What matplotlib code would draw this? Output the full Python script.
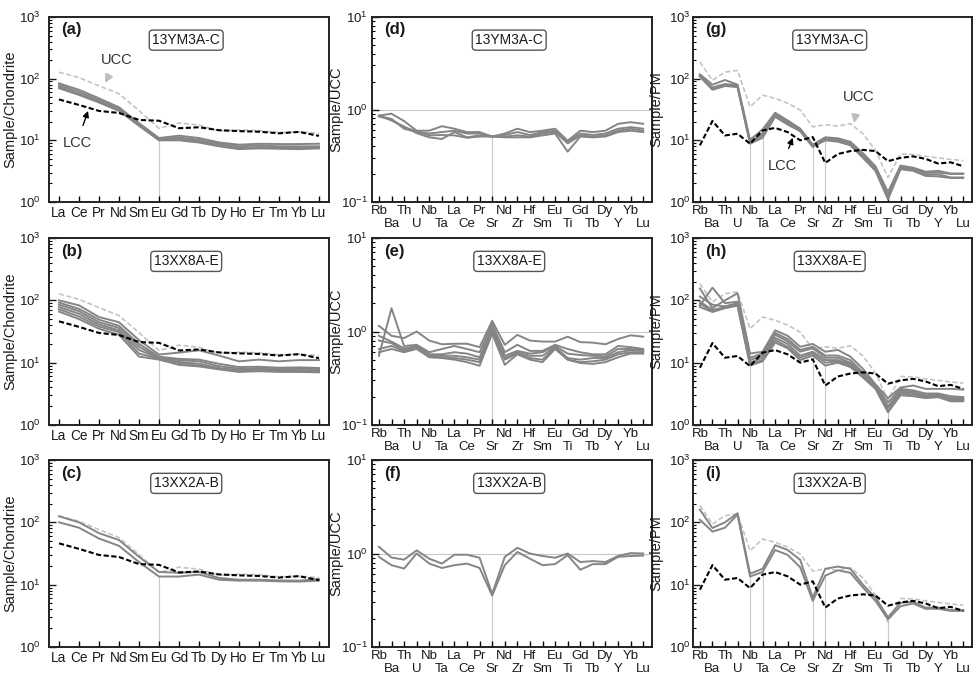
import numpy as np
import matplotlib
matplotlib.use('Agg')
import matplotlib.pyplot as plt
from matplotlib.ticker import LogLocator, NullFormatter, LogFormatterSciNotation

plt.rcParams['font.family'] = ['Liberation Sans', 'DejaVu Sans']
plt.rcParams['mathtext.fontset'] = 'custom'
plt.rcParams['mathtext.rm'] = 'Liberation Sans'
plt.rcParams['mathtext.it'] = 'Liberation Sans:italic'
plt.rcParams['mathtext.bf'] = 'Liberation Sans:bold'

# ---------------- categories ----------------
ree = ['La', 'Ce', 'Pr', 'Nd', 'Sm', 'Eu', 'Gd', 'Tb', 'Dy', 'Ho', 'Er', 'Tm', 'Yb', 'Lu']
spider = ['Rb', 'Ba', 'Th', 'U', 'Nb', 'Ta', 'La', 'Ce', 'Pr', 'Sr', 'Nd', 'Zr',
          'Hf', 'Sm', 'Eu', 'Ti', 'Gd', 'Tb', 'Dy', 'Y', 'Yb', 'Lu']

# ---------------- reference curves ----------------
ucc_ree = [127, 104, 76.5, 57, 30.4, 15.6, 19.1, 17.7, 14.2, 14.7, 14.4, 13.4, 13.7, 13.0]
lcc_ree = [46, 37.5, 30, 27.8, 21.4, 20.8, 15.7, 16.3, 14.6, 14.1, 13.8, 13.0, 13.7, 11.8]
ucc_pm = [186, 94, 128, 136, 35, 54, 48, 40, 31, 16.5, 18, 17, 18.7, 12.8, 6.9, 2.5,
          6.0, 5.9, 5.5, 5.2, 4.9, 4.7]
lcc_pm = [8.3, 20.6, 12, 12.8, 8.8, 14.5, 15.9, 13.6, 10, 11.3, 4.3, 6.0, 6.7, 7.0,
          6.7, 4.6, 5.2, 5.5, 5.0, 4.2, 4.4, 3.8]

# ---------------- samples: chondrite-normalised REE ----------------
a_ree = [
    [84, 66, 48, 34.4, 19, 10.9, 11.9, 10.9, 9.25, 8.5, 8.8, 8.7, 8.7, 8.8],
    [79, 61, 45, 32.7, 18.5, 10.5, 11.1, 10.2, 8.8, 8.0, 8.3, 8.0, 8.0, 8.0],
    [74, 56.5, 42.5, 31.2, 17.8, 10.2, 10.5, 9.6, 8.3, 7.5, 7.8, 7.6, 7.5, 7.7],
    [70, 54.5, 41, 30, 17.2, 10.0, 10.0, 9.2, 8.0, 7.2, 7.4, 7.3, 7.2, 7.4],
]
b_ree = [
    [100, 83, 54, 44.5, 23, 13.5, 14.5, 15.8, 13, 10.5, 11.2, 10.5, 11, 11],
    [92, 73, 49, 39, 20, 12.5, 11.5, 11.2, 9.6, 8.5, 8.6, 8.3, 8.4, 8.2],
    [85, 67, 44.5, 36, 18, 12, 11, 10.5, 8.8, 8.0, 8.2, 7.9, 8.0, 7.9],
    [78, 61, 41, 33, 16, 11.8, 10.3, 9.6, 8.2, 7.6, 7.8, 7.6, 7.6, 7.4],
    [72, 55, 38, 31, 14, 11.5, 9.8, 9.0, 8.0, 7.3, 7.5, 7.3, 7.3, 7.2],
    [66, 50, 35, 28, 12.5, 11.2, 9.2, 8.7, 7.8, 7.1, 7.3, 7.1, 7.1, 7.0],
]
c_ree = [
    [125, 100, 67, 52, 28, 16, 15.5, 16, 12.8, 12, 12, 11.7, 11.6, 12.3],
    [100, 82, 55, 42, 23, 13.5, 13.5, 14.5, 12, 11.6, 11.6, 11.3, 11.2, 11.6],
]

# ---------------- samples: UCC-normalised ----------------
d_ucc = [
    [0.86, 0.90, 0.75, 0.59, 0.59, 0.66, 0.62, 0.57, 0.57, 0.51, 0.55, 0.62, 0.57, 0.59,
     0.62, 0.46, 0.59, 0.57, 0.59, 0.70, 0.73, 0.70],
    [0.85, 0.79, 0.62, 0.57, 0.55, 0.57, 0.59, 0.55, 0.55, 0.51, 0.53, 0.57, 0.53, 0.57,
     0.59, 0.445, 0.55, 0.53, 0.55, 0.62, 0.645, 0.62],
    [0.86, 0.76, 0.655, 0.555, 0.50, 0.48, 0.57, 0.50, 0.525, 0.51, 0.51, 0.525, 0.51,
     0.55, 0.57, 0.43, 0.525, 0.51, 0.525, 0.59, 0.62, 0.59],
    [0.84, 0.78, 0.64, 0.585, 0.525, 0.53, 0.525, 0.495, 0.51, 0.51, 0.50, 0.50, 0.50,
     0.525, 0.55, 0.35, 0.51, 0.50, 0.51, 0.57, 0.59, 0.57],
]
e_ucc = [
    [1.15, 0.90, 0.85, 1.00, 0.80, 0.73, 0.74, 0.74, 0.68, 1.30, 0.72, 0.92, 0.80, 0.78,
     0.78, 0.88, 0.77, 0.76, 0.73, 0.83, 0.91, 0.88],
    [0.55, 1.77, 0.70, 0.72, 0.60, 0.65, 0.70, 0.65, 0.60, 1.20, 0.60, 0.72, 0.62, 0.62,
     0.72, 0.65, 0.60, 0.57, 0.57, 0.70, 0.68, 0.65],
    [0.90, 0.78, 0.66, 0.70, 0.57, 0.57, 0.60, 0.58, 0.53, 1.10, 0.55, 0.62, 0.58, 0.60,
     0.70, 0.58, 0.56, 0.55, 0.54, 0.65, 0.65, 0.63],
    [0.80, 0.75, 0.63, 0.70, 0.55, 0.55, 0.55, 0.53, 0.50, 1.05, 0.52, 0.60, 0.55, 0.55,
     0.68, 0.52, 0.50, 0.52, 0.52, 0.60, 0.63, 0.62],
    [0.65, 0.70, 0.62, 0.68, 0.54, 0.53, 0.52, 0.50, 0.47, 1.00, 0.50, 0.58, 0.52, 0.50,
     0.67, 0.50, 0.47, 0.48, 0.50, 0.57, 0.60, 0.60],
    [0.60, 0.65, 0.60, 0.65, 0.53, 0.52, 0.50, 0.47, 0.43, 0.95, 0.44, 0.57, 0.50, 0.47,
     0.65, 0.50, 0.46, 0.45, 0.47, 0.53, 0.58, 0.58],
]
f_ucc = [
    [1.18, 0.905, 0.86, 1.08, 0.88, 0.78, 0.97, 0.97, 0.90, 0.37, 0.92, 1.15, 1.00, 0.94,
     0.90, 1.00, 0.81, 0.83, 0.81, 0.94, 1.01, 1.00],
    [0.92, 0.75, 0.69, 1.00, 0.78, 0.70, 0.75, 0.78, 0.70, 0.355, 0.75, 1.04, 0.88, 0.75,
     0.77, 0.96, 0.67, 0.77, 0.77, 0.92, 0.94, 0.95],
]

# ---------------- samples: primitive-mantle-normalised ----------------
g_pm = [
    [118, 80, 95, 80, 10.2, 15, 28, 21, 15.5, 8.5, 11.2, 10.8, 9.5, 6.2, 3.8, 1.45,
     3.9, 3.6, 3.1, 3.2, 2.9, 2.9],
    [112, 72, 82, 78, 9.5, 13, 27, 20, 15, 8.3, 11, 10.3, 9.0, 5.8, 3.6, 1.3,
     3.7, 3.5, 2.95, 3.0, 2.85, 2.85],
    [110, 68, 78, 75, 9.0, 12, 25.5, 19, 14.5, 8.0, 10.5, 9.8, 8.6, 5.5, 3.4, 1.2,
     3.5, 3.3, 2.75, 2.8, 2.5, 2.5],
    [108, 66, 76, 73, 8.8, 11, 24, 18, 14, 7.8, 10, 9.5, 8.3, 5.2, 3.2, 1.1,
     3.4, 3.2, 2.65, 2.6, 2.45, 2.45],
]
h_pm = [
    [155, 75, 100, 130, 14, 15, 33, 27, 18, 20, 15, 16, 12.5, 8, 4.5, 2.7,
     4.0, 4.3, 3.8, 3.8, 3.8, 3.7],
    [82, 160, 90, 95, 12, 14, 30, 24, 16, 18, 13, 13, 11, 7, 4.3, 2.3,
     3.8, 3.6, 3.2, 3.2, 2.9, 2.8],
    [115, 85, 80, 90, 11, 13, 28, 22, 15, 17, 12, 12, 10, 6.5, 4.2, 2.0,
     3.6, 3.4, 3.0, 3.1, 2.7, 2.7],
    [95, 70, 78, 88, 10, 12, 25, 20, 13, 15, 11, 11, 9.5, 6.2, 4.0, 1.9,
     3.4, 3.3, 2.9, 3.0, 2.6, 2.6],
    [88, 67, 76, 85, 9.5, 11, 23, 18, 12, 14, 10, 10.5, 9, 6.0, 3.9, 1.7,
     3.2, 3.1, 2.8, 2.9, 2.5, 2.5],
    [78, 65, 75, 82, 9, 10.5, 21, 17, 11, 13, 9, 10, 8.5, 5.8, 3.8, 1.6,
     3.0, 2.9, 2.7, 2.8, 2.4, 2.4],
]
i_pm = [
    [160, 81, 100, 140, 15, 18, 43, 36, 25, 6.2, 18, 19.5, 18, 10, 6.2, 3.0,
     5.1, 5.3, 4.3, 4.3, 3.9, 3.9],
    [110, 71, 82, 133, 13.5, 16, 36, 30, 19, 5.5, 14, 17, 15.5, 9, 5.5, 2.8,
     4.5, 5.0, 4.1, 4.1, 3.8, 3.8],
]

sample_names = ['13YM3A-C', '13XX8A-E', '13XX2A-B']
panel_letters = ['a', 'b', 'c', 'd', 'e', 'f', 'g', 'h', 'i']

# ---------------- styling ----------------
TXT = '#1a1a1a'
SAMPLE_C = '#858585'
UCC_C = '#c4c4c4'
REF_C = '#c8c8c8'
W, H = 973, 677

fig = plt.figure(figsize=(W / 100, H / 100), dpi=100)

col_x = [49, 372, 693]
col_w = [280, 280, 279]
row_y = [(17, 202), (238, 425), (460, 647)]
col_pad = [6, 3, 2]
col_labx = [-0.112, -0.102, -0.105]


def make_ax(col, row):
    x0 = col_x[col]
    y0, y1 = row_y[row]
    return fig.add_axes([x0 / W, 1 - y1 / H, col_w[col] / W, (y1 - y0) / H])


def style_common(ax, col, ylim, ylabel, letter, name):
    ax.set_yscale('log')
    ax.set_ylim(*ylim)
    ax.yaxis.set_major_locator(LogLocator(base=10, numticks=10))
    ax.yaxis.set_minor_locator(LogLocator(base=10, subs=np.arange(2, 10), numticks=20))
    ax.yaxis.set_minor_formatter(NullFormatter())
    ax.yaxis.set_major_formatter(LogFormatterSciNotation())
    ax.tick_params(axis='y', which='major', direction='in', length=5, width=1.0,
                   labelsize=9.5, pad=col_pad[col], colors=TXT)
    ax.tick_params(axis='y', which='minor', direction='in', length=2.5, width=0.8)
    for s in ax.spines.values():
        s.set_linewidth(1.4)
        s.set_color('#222222')
    ax.set_ylabel(ylabel, fontsize=10.5, color=TXT)
    ax.yaxis.set_label_coords(col_labx[col], 0.5)
    ax.text(0.045, 0.93, '(%s)' % letter, transform=ax.transAxes, fontsize=12,
            fontweight='bold', ha='left', va='center', color=TXT)
    ax.text(0.49, 0.875, name, transform=ax.transAxes, fontsize=10, ha='center',
            va='center', color=TXT,
            bbox=dict(boxstyle='round,pad=0.22,rounding_size=0.25', fc='white',
                      ec='#555555', lw=1.0))


def draw_samples(ax, samples, marks, cats, ymin):
    arr = np.array(samples, dtype=float)
    x = np.arange(len(cats))
    for m in marks:
        i = cats.index(m)
        ax.plot([i, i], [ymin, arr[:, i].min()], color=REF_C, lw=0.8, zorder=1)
    for s in arr:
        ax.plot(x, s, color=SAMPLE_C, lw=1.4, zorder=3)


# -------- REE panels --------
ree_samples = [a_ree, b_ree, c_ree]
for r in range(3):
    ax = make_ax(0, r)
    x = np.arange(len(ree))
    ax.plot(x, ucc_ree, color=UCC_C, lw=1.2, ls=(0, (3, 1.5)), zorder=2)
    ax.plot(x, lcc_ree, color='black', lw=1.5, ls=(0, (2.5, 1.2)), zorder=4)
    draw_samples(ax, ree_samples[r], ['Eu'], ree, 1)
    ax.set_xlim(-0.5, 13.5)
    ax.set_xticks(x)
    ax.set_xticklabels(ree, fontsize=9.8, color=TXT)
    ax.tick_params(axis='x', direction='in', length=4, width=1.0, pad=3)
    style_common(ax, 0, (1, 1000), 'Sample/Chondrite', panel_letters[r], sample_names[r])
    if r == 0:
        ax.annotate('UCC', xy=(2.3, 85), xytext=(2.9, 200), fontsize=10.5, color='#333333',
                    ha='center', va='center',
                    arrowprops=dict(arrowstyle='-|>', color='#bdbdbd', lw=1.6,
                                    mutation_scale=11, shrinkA=6, shrinkB=0))
        ax.annotate('LCC', xy=(1.45, 30), xytext=(0.9, 9.0), fontsize=10.5, color='#333333',
                    ha='center', va='center',
                    arrowprops=dict(arrowstyle='-|>', color='black', lw=1.0,
                                    mutation_scale=9, shrinkA=6, shrinkB=0))


def spider_xaxis(ax):
    n = len(spider)
    ax.set_xlim(-0.55, n - 0.3)
    ax.set_xticks(list(range(0, n, 2)))
    ax.set_xticklabels(spider[0::2], fontsize=9.5, color=TXT)
    ax.set_xticks(list(range(1, n, 2)), minor=True)
    ax.set_xticklabels(spider[1::2], minor=True, fontsize=9.5, color=TXT)
    ax.tick_params(axis='x', which='major', direction='in', length=4, width=1.0, pad=2.5)
    ax.tick_params(axis='x', which='minor', direction='in', length=4, width=1.0, pad=11.5)


# -------- UCC-normalised panels --------
ucc_samples = [d_ucc, e_ucc, f_ucc]
for r in range(3):
    ax = make_ax(1, r)
    ax.axhline(1.0, color=REF_C, lw=0.8, zorder=1)
    draw_samples(ax, ucc_samples[r], ['Sr'], spider, 0.1)
    spider_xaxis(ax)
    style_common(ax, 1, (0.1, 10), 'Sample/UCC', panel_letters[3 + r], sample_names[r])

# -------- PM-normalised panels --------
pm_samples = [g_pm, h_pm, i_pm]
for r in range(3):
    ax = make_ax(2, r)
    x = np.arange(len(spider))
    ax.plot(x, ucc_pm, color=UCC_C, lw=1.2, ls=(0, (3, 1.5)), zorder=2)
    ax.plot(x, lcc_pm, color='black', lw=1.5, ls=(0, (2.5, 1.2)), zorder=4)
    draw_samples(ax, pm_samples[r], ['Nb', 'Ta', 'Sr', 'Nd', 'Ti'], spider, 1)
    spider_xaxis(ax)
    style_common(ax, 2, (1, 1000), 'Sample/PM', panel_letters[6 + r], sample_names[r])
    if r == 0:
        ax.annotate('UCC', xy=(12.3, 19), xytext=(12.65, 50), fontsize=10.5, color='#333333',
                    ha='center', va='center',
                    arrowprops=dict(arrowstyle='-|>', color='#bdbdbd', lw=1.6,
                                    mutation_scale=11, shrinkA=6, shrinkB=0))
        ax.annotate('LCC', xy=(7.4, 11), xytext=(6.56, 3.84), fontsize=10.5, color='#333333',
                    ha='center', va='center',
                    arrowprops=dict(arrowstyle='-|>', color='black', lw=1.0,
                                    mutation_scale=9, shrinkA=6, shrinkB=0))

fig.savefig('out.png', dpi=100)
